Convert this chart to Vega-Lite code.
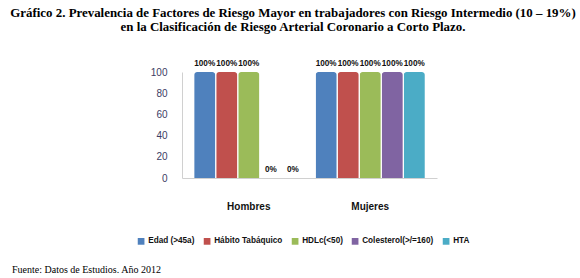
{
  "$schema": "https://vega.github.io/schema/vega-lite/v6.json",
  "background": "white",
  "padding": {"left": 8, "right": 0, "top": 7, "bottom": 0},
  "title": {
    "text": ["Gráfico  2. Prevalencia de Factores de Riesgo Mayor en trabajadores con Riesgo Intermedio (10 – 19%)", "en la Clasificación de Riesgo Arterial Coronario a Corto Plazo."],
    "font": "Liberation Serif",
    "fontSize": 12.9,
    "fontWeight": "bold",
    "color": "#000000",
    "lineHeight": 14,
    "anchor": "middle",
    "align": "center",
    "dx": 52,
    "offset": 25
  },
  "vconcat": [
    {
      "width": 255,
      "height": 106,
      "title": {
        "text": "Fuente: Datos de Estudios. Año 2012",
        "orient": "bottom",
        "anchor": "start",
        "frame": "group",
        "font": "Liberation Serif",
        "fontSize": 10,
        "fontWeight": "normal",
        "color": "#000000",
        "dx": -170,
        "offset": 54
      },
      "data": {
        "values": [
          {"grupo": "Hombres", "factor": "Edad (>45a)", "valor": 100},
          {"grupo": "Hombres", "factor": "Hábito Tabáquico", "valor": 100},
          {"grupo": "Hombres", "factor": "HDLc(<50)", "valor": 100},
          {"grupo": "Hombres", "factor": "Colesterol(>/=160)", "valor": 0},
          {"grupo": "Hombres", "factor": "HTA", "valor": 0},
          {"grupo": "Mujeres", "factor": "Edad (>45a)", "valor": 100},
          {"grupo": "Mujeres", "factor": "Hábito Tabáquico", "valor": 100},
          {"grupo": "Mujeres", "factor": "HDLc(<50)", "valor": 100},
          {"grupo": "Mujeres", "factor": "Colesterol(>/=160)", "valor": 100},
          {"grupo": "Mujeres", "factor": "HTA", "valor": 100}
        ]
      },
      "transform": [{"calculate": "datum.valor + '%'", "as": "etiqueta"}],
      "encoding": {
        "x": {
          "field": "grupo",
          "type": "nominal",
          "sort": ["Hombres", "Mujeres"],
          "scale": {"paddingInner": 0.1, "paddingOuter": 0.1},
          "axis": {
            "title": null,
            "labelAngle": 0,
            "ticks": false,
            "domain": true,
            "domainColor": "#d0d0d0",
            "labelFont": "Liberation Sans",
            "labelFontSize": 10,
            "labelFontWeight": "bold",
            "labelColor": "#111111",
            "labelPadding": 23
          }
        },
        "xOffset": {
          "field": "factor",
          "type": "nominal",
          "sort": ["Edad (>45a)", "Hábito Tabáquico", "HDLc(<50)", "Colesterol(>/=160)", "HTA"],
          "scale": {"paddingInner": 0.04}
        },
        "y": {
          "field": "valor",
          "type": "quantitative",
          "scale": {"domain": [0, 100]},
          "axis": {
            "title": null,
            "values": [0, 20, 40, 60, 80, 100],
            "grid": false,
            "ticks": false,
            "domain": true,
            "domainColor": "#d0d0d0",
            "labelFont": "Liberation Sans",
            "labelFontSize": 10,
            "labelColor": "#3c3c64",
            "labelPadding": 15
          }
        }
      },
      "layer": [
        {
          "mark": {"type": "bar", "cornerRadiusTopLeft": 3, "cornerRadiusTopRight": 3},
          "encoding": {
            "color": {
              "field": "factor",
              "type": "nominal",
              "sort": ["Edad (>45a)", "Hábito Tabáquico", "HDLc(<50)", "Colesterol(>/=160)", "HTA"],
              "scale": {
                "domain": ["Edad (>45a)", "Hábito Tabáquico", "HDLc(<50)", "Colesterol(>/=160)", "HTA"],
                "range": ["#4F81BD", "#C0504D", "#9BBB59", "#8064A2", "#4BACC6"]
              },
              "legend": {
                "title": null,
                "orient": "none",
                "legendX": -45,
                "legendY": 165,
                "direction": "horizontal",
                "symbolType": "square",
                "symbolSize": 45,
                "symbolStrokeWidth": 0,
                "labelFont": "Liberation Sans",
                "labelFontSize": 8.2,
                "labelFontWeight": "bold",
                "labelColor": "#111111",
                "labelOffset": 3,
                "columnPadding": 8
              }
            }
          }
        },
        {
          "mark": {"type": "text", "baseline": "bottom", "dy": -4, "font": "Liberation Sans", "fontSize": 8.2, "fontWeight": "bold", "color": "#111111"},
          "encoding": {"text": {"field": "etiqueta", "type": "nominal"}}
        }
      ]
    }
  ],
  "config": {
    "view": {"stroke": null}
  }
}
